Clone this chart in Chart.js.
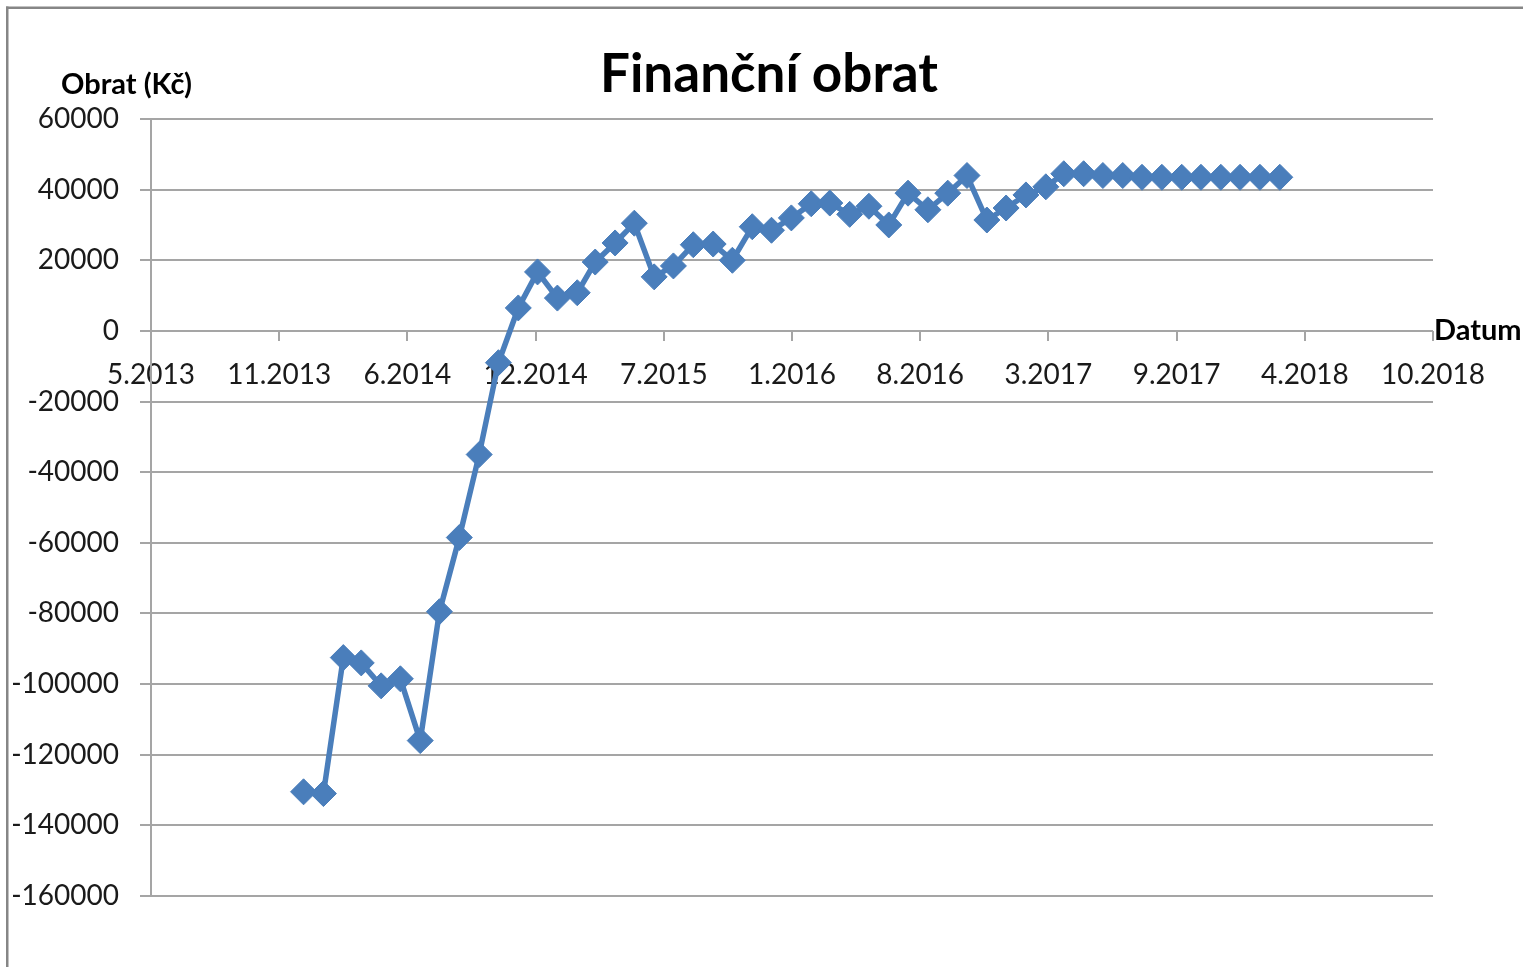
<!DOCTYPE html>
<html>
<head>
<meta charset="utf-8">
<script src="https://cdn.jsdelivr.net/npm/chart.js@4.4.1/dist/chart.umd.min.js"></script>
<style>
  html, body { margin: 0; padding: 0; background: #fff; }
  #wrap { width: 1523px; height: 967px; }
</style>
</head>
<body>
<div id="wrap"><canvas id="c" width="1523" height="967"></canvas></div>
<script>
// ---- data ----
const chartTitle = 'Finanční obrat';
const yAxisTitle = 'Obrat (Kč)';
const xAxisTitle = 'Datum';
const dates = ['12.2013',
  '1.2014','2.2014','3.2014','4.2014','5.2014','6.2014','7.2014','8.2014','9.2014','10.2014','11.2014','12.2014',
  '1.2015','2.2015','3.2015','4.2015','5.2015','6.2015','7.2015','8.2015','9.2015','10.2015','11.2015','12.2015',
  '1.2016','2.2016','3.2016','4.2016','5.2016','6.2016','7.2016','8.2016','9.2016','10.2016','11.2016','12.2016',
  '1.2017','2.2017','3.2017','4.2017','5.2017','6.2017','7.2017','8.2017','9.2017','10.2017','11.2017','12.2017',
  '1.2018','2.2018'];
const obrat = [-130500, -131000, -92500, -94000, -100500, -98500, -116000, -79500, -58500, -35000,
  -9000, 6500, 16700, 9300, 10800, 19500, 24900, 30500, 15300, 18400,
  24400, 24600, 20000, 29500, 28500, 32000, 36000, 36200, 33000, 35300,
  30000, 39000, 34300, 39000, 44000, 31400, 34800, 38500, 40800, 44500,
  44500, 44000, 44000, 43500, 43500, 43500, 43500, 43500, 43500, 43500, 43500];
const xAxisStart = '1.5.2013';   // day.month.year
const xAxisSpanDays = 2000;
const xAxisStepDays = 200;
const yMin = -160000, yMax = 60000, yStep = 20000;

// ---- helpers ----
const DAY = 86400000;
function parseDMY(s) { const p = s.split('.').map(Number); return Date.UTC(p[2], p[1] - 1, p[0]); }
const origin = parseDMY(xAxisStart);
function monthToDays(s) { const p = s.split('.').map(Number); return (Date.UTC(p[1], p[0] - 1, 25) - origin) / DAY; }
const points = dates.map((d, i) => ({ x: monthToDays(d), y: obrat[i] }));

Chart.defaults.font.family = 'Lato';
Chart.defaults.color = '#1a1a1a';

const GRID = '#a5a5a5';

const decor = {
  id: 'decor',
  beforeDraw(chart) {
    const ctx = chart.ctx;
    ctx.save();
    ctx.fillStyle = '#fff';
    ctx.fillRect(0, 0, chart.width, chart.height);
    ctx.fillStyle = '#868686';
    ctx.fillRect(6, 6.5, 2.5, chart.height);
    ctx.fillRect(6, 6.5, chart.width, 2.5);
    ctx.restore();
  },
  afterDraw(chart) {
    const ctx = chart.ctx;
    ctx.save();
    ctx.fillStyle = '#000';
    ctx.textBaseline = 'alphabetic';
    ctx.font = 'bold 53px Lato';
    ctx.textAlign = 'center';
    ctx.fillText(chartTitle, 769, 92);
    ctx.font = 'bold 29px Lato';
    ctx.textAlign = 'left';
    ctx.fillText(yAxisTitle, 61, 94);
    ctx.fillText(xAxisTitle, 1434, 340);
    ctx.restore();
  }
};

new Chart(document.getElementById('c'), {
  type: 'line',
  data: {
    datasets: [{
      data: points,
      borderColor: '#4a7ebb',
      backgroundColor: '#4a7ebb',
      borderWidth: 5.5,
      pointStyle: 'rectRot',
      pointRadius: 13,
      pointBorderWidth: 1,
      pointBorderColor: '#4a7ebb',
      pointBackgroundColor: '#4a7ebb',
      tension: 0,
      fill: false
    }]
  },
  options: {
    responsive: false,
    animation: false,
    events: [],
    layout: { padding: { left: 8, top: 119, right: 90, bottom: 71 } },
    plugins: { legend: { display: false }, tooltip: { enabled: false }, title: { display: false } },
    scales: {
      x: {
        type: 'linear',
        position: { y: 0 },
        min: 0,
        max: xAxisSpanDays,
        grid: { display: true, drawOnChartArea: false, drawTicks: true, tickLength: 10, color: GRID, lineWidth: 2 },
        border: { display: false },
        ticks: {
          stepSize: xAxisStepDays,
          autoSkip: false,
          maxRotation: 0,
          padding: 17,
          font: { size: 28 },
          color: '#1a1a1a',
          callback: (v) => { const d = new Date(origin + v * DAY); return (d.getUTCMonth() + 1) + '.' + d.getUTCFullYear(); }
        }
      },
      y: {
        type: 'linear',
        position: 'left',
        min: yMin,
        max: yMax,
        afterFit: (s) => { s.width = 143; },
        grid: { color: GRID, lineWidth: 2, tickLength: 11, drawTicks: true },
        border: { display: true, color: GRID, width: 2 },
        ticks: {
          stepSize: yStep,
          padding: 21,
          font: { size: 28 },
          color: '#1a1a1a',
          callback: (v) => String(v)
        }
      }
    }
  },
  plugins: [decor]
});
</script>
</body>
</html>
